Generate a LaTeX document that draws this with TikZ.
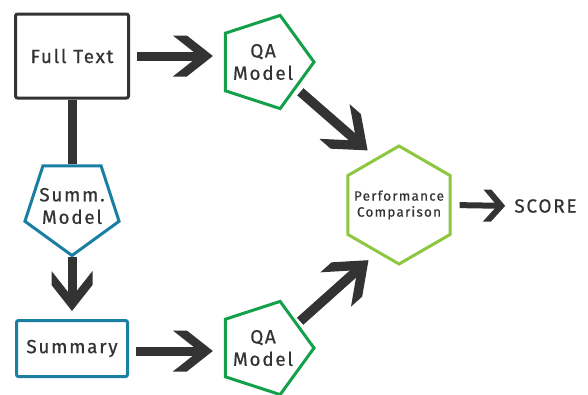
\documentclass[tikz,border=0pt]{standalone}
\usepackage{fontspec}
\setmainfont{Fira Sans}[LetterSpace=9, FakeBold=0.6]
\usetikzlibrary{arrows.meta,shapes.geometric}
\definecolor{ink}{HTML}{333333}
\definecolor{qagreen}{HTML}{14A04B}
\definecolor{sumblue}{HTML}{1A7FA3}
\definecolor{hexgreen}{HTML}{8DC63F}
\pgfdeclarearrow{
  name = Chev,
  defaults = {length = 26pt, width = 41pt, inset = 14pt},
  setup code = {
    \pgfarrowssettipend{0pt}
    \pgfarrowssetlineend{-\pgfarrowinset}
    \pgfarrowssetvisualbackend{-\pgfarrowinset}
    \pgfarrowssetbackend{-\pgfarrowlength}
    \pgfarrowsupperhullpoint{0pt}{0pt}
    \pgfarrowsupperhullpoint{-\pgfarrowlength}{.5\pgfarrowwidth}
    \pgfarrowssavethe\pgfarrowlength
    \pgfarrowssavethe\pgfarrowwidth
    \pgfarrowssavethe\pgfarrowinset
  },
  drawing code = {
    \pgfpathmoveto{\pgfqpoint{0pt}{0pt}}
    \pgfpathlineto{\pgfpoint{-\pgfarrowlength}{.5\pgfarrowwidth}}
    \pgfpathlineto{\pgfpoint{-\pgfarrowlength-\pgfarrowinset}{.5\pgfarrowwidth}}
    \pgfpathlineto{\pgfpoint{-\pgfarrowinset}{0pt}}
    \pgfpathlineto{\pgfpoint{-\pgfarrowlength-\pgfarrowinset}{-.5\pgfarrowwidth}}
    \pgfpathlineto{\pgfpoint{-\pgfarrowlength}{-.5\pgfarrowwidth}}
    \pgfpathclose
    \pgfusepathqfill
  },
  parameters = {\the\pgfarrowlength,\the\pgfarrowwidth,\the\pgfarrowinset},
}
\begin{document}
\begin{tikzpicture}[x=1pt,y=-1pt,
  every node/.style={text=ink, font=\fontsize{19}{22.5}\selectfont, align=center, inner sep=0pt},
  every label/.style={text=ink, font=\fontsize{19}{22.5}\selectfont, align=center, inner sep=0pt},
  boxnode/.style={draw=#1, line width=3pt, rounded corners=2pt, fill=white},
  pent/.style={draw=#1, line width=3pt, regular polygon, regular polygon sides=5, minimum size=98pt},
  hexnode/.style={draw=hexgreen, line width=3pt, regular polygon, regular polygon sides=6, minimum size=118pt, shape border rotate=30},
  bigarrow/.style={color=ink, line width=9pt, -{Chev}},
  diagarrow/.style={color=ink, line width=9.5pt, -{Chev[length=29pt,width=46pt,inset=15pt]}},
  smallarrow/.style={color=ink, line width=6pt, -{Chev[length=14pt,width=32pt,inset=8pt]}},
  plainbar/.style={draw=ink, line width=9pt}
]
\useasboundingbox (0,0) rectangle (588,394);

\node[boxnode=ink, minimum width=113pt, minimum height=84pt] (ft) at (72,56) {Full Text};
\node[pent=qagreen, shape border rotate=-90, label={[xshift=-2pt]center:QA\\Model}] (qa1) at (265,62) {};
\node[pent=sumblue, shape border rotate=180, minimum size=99pt, label={center:Summ.\\Model}] (summ) at (72,206) {};
\node[boxnode=sumblue, minimum width=111pt, minimum height=56pt] (sum) at (72,348.5) {Summary};
\node[pent=qagreen, shape border rotate=-90, label={[xshift=-2pt]center:QA\\Model}] (qa2) at (265,348) {};
\node[hexnode, label={[font=\fontsize{13.5}{16}\selectfont]center:Performance\\Comparison}] (hex) at (399,205) {};
\node (score) at (545.5,206) {SCORE};

\draw[bigarrow, shorten <=7pt, shorten >=11pt] (ft.east) -- (ft.east -| qa1.west);
\draw[plainbar] (ft.south) -- (summ.north);
\draw[bigarrow, shorten >=8pt] (summ.south) -- (sum.north);
\draw[bigarrow, shorten <=7pt, shorten >=11pt] ([yshift=-2.5pt]sum.east) -- ([yshift=-2.5pt]sum.east -| qa2.west);
\draw[diagarrow, shorten <=5pt, shorten >=11pt] (qa1.-40) -- (hex.116);
\draw[diagarrow, shorten <=3pt, shorten >=11pt] (qa2.37) -- (hex.-115);
\draw[smallarrow, shorten <=8pt, shorten >=9pt] (hex.east) -- (score.west);
\end{tikzpicture}
\end{document}
